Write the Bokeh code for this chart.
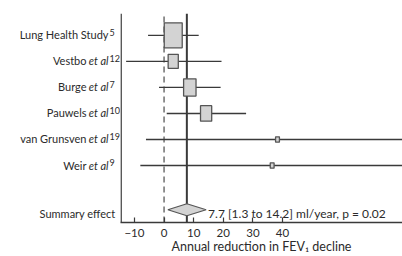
from bokeh.plotting import figure
from bokeh.layouts import row
from bokeh.models import Range1d, FixedTicker, ColumnDataSource, LabelSet, Label
from bokeh.core.properties import value
from bokeh.embed import file_html
from bokeh.resources import INLINE
import math

# ---- data ----
studies = ["Lung Health Study", "Vestbo", "Burge", "Pauwels", "van Grunsven", "Weir"]
et_al = [False, True, True, True, True, True]
refs = ["5", "12", "7", "10", "19", "9"]
effect = [3.1, 3.1, 8.7, 14.2, 38.3, 36.5]
ci_low = [-5.4, -12.8, -1.7, 0.9, -6.1, -8.0]
ci_high = [11.7, 19.4, 19.1, 27.7, 85.0, 82.0]
weight_pct = [44, 14, 21, 17, 2, 2]

summary_label = "Summary effect"
summary_est = 7.7
summary_low = 1.3
summary_high = 14.2
summary_p = "0.02"

x_ticks = [-10, 0, 10, 20, 30, 40]
x_label = "Annual reduction in FEV\u2081 decline"

# ---- style ----
FONT = "Lato"
TXT = "#2b2b2b"
LINE = "#3a3a3a"
H = 256
TOP = 13
BOT = 34
LEFT_W = 120
MAIN_W = 282

n = len(studies)
ys = [n - i for i in range(n)]          # rows 6..1
y_sum = 1 - 1.70
Y0, Y1 = -1.19, 6.84
X0, X1 = -14.5, 80.5
yr = Range1d(Y0, Y1)

# ---------- main panel ----------
p = figure(width=MAIN_W, height=H, output_backend="svg", toolbar_location=None,
           x_range=Range1d(X0 - 0.2, X1), y_range=yr)
p.min_border = 0
p.min_border_top = TOP
p.min_border_bottom = BOT
p.outline_line_color = None
p.xgrid.visible = False
p.ygrid.visible = False
p.yaxis.visible = False

xa = p.xaxis[0]
xa.ticker = FixedTicker(ticks=x_ticks)
xa.major_label_overrides = {t: (("\u2212" + str(-t)) if t < 0 else str(t)) for t in x_ticks}
xa.minor_tick_line_color = None
xa.major_tick_in = 5
xa.major_tick_out = 0
xa.major_tick_line_color = LINE
xa.major_tick_line_width = 1.2
xa.axis_line_color = LINE
xa.axis_line_width = 1.5
xa.major_label_text_font = FONT
xa.major_label_text_font_size = "11.5px"
xa.major_label_text_color = TXT
xa.major_label_standoff = 6
xa.axis_label = x_label
xa.axis_label_text_font = FONT
xa.axis_label_text_font_size = "12.5px"
xa.axis_label_text_font_style = "normal"
xa.axis_label_text_color = TXT
xa.axis_label_standoff = -1

# left axis line
p.segment(x0=[X0], y0=[Y0], x1=[X0], y1=[Y1], line_color=LINE, line_width=1.5)
# reference lines
p.segment(x0=[0], y0=[Y0], x1=[0], y1=[Y1], line_color=LINE, line_width=1.1, line_dash="6 4")
p.segment(x0=[summary_est], y0=[Y0], x1=[summary_est], y1=[Y1], line_color=LINE, line_width=2)

# CIs
p.segment(x0=ci_low, y0=ys, x1=ci_high, y1=ys, line_color=LINE, line_width=1.4)

# boxes sized by weight
bw = [2.71 * math.sqrt(w) for w in weight_pct]
bh = [3.77 * math.sqrt(w) for w in weight_pct]
p.rect(x=effect, y=ys, width=bw, height=bh, width_units="screen", height_units="screen",
       fill_color="#d3d3d3", line_color="#555555", line_width=1.3)

# summary diamond
dh = 0.23
p.patch(x=[summary_low, summary_est, summary_high, summary_est],
        y=[y_sum, y_sum + dh, y_sum, y_sum - dh],
        fill_color="#d3d3d3", line_color="#555555", line_width=1.2)

p.add_layout(Label(x=summary_high, y=y_sum, x_offset=2, y_offset=-4,
                   text=f"{summary_est} [{summary_low} to {summary_high}] ml/year, p = {summary_p}",
                   text_font=FONT, text_font_size="12px", text_color=TXT,
                   text_align="left", text_baseline="alphabetic"))

# ---------- label panel ----------
q = figure(width=LEFT_W, height=H, output_backend="svg", toolbar_location=None,
           x_range=Range1d(0, 1), y_range=yr)
q.min_border = 0
q.min_border_top = TOP
q.min_border_bottom = BOT
q.outline_line_color = None
q.grid.visible = False
q.axis.visible = False

ETAL_W = 22
name_src = ColumnDataSource(dict(x=[1] * n, y=ys, text=studies,
                                 xo=[-12 - (ETAL_W if e else 0) for e in et_al]))
q.add_layout(LabelSet(x="x", y="y", text="text", x_offset="xo", y_offset=-4, source=name_src,
                      text_font=value(FONT), text_font_size=value("11px"), text_color=TXT,
                      text_align="right", text_baseline="alphabetic"))
ey = [y for y, e in zip(ys, et_al) if e]
etal_src = ColumnDataSource(dict(x=[1] * len(ey), y=ey, text=["et al"] * len(ey)))
q.add_layout(LabelSet(x="x", y="y", text="text", x_offset=-12, y_offset=-4, source=etal_src,
                      text_font=value(FONT), text_font_size=value("11px"),
                      text_font_style="italic",
                      text_color=TXT, text_align="right", text_baseline="alphabetic"))
sup_src = ColumnDataSource(dict(x=[1] * n, y=ys, text=refs))
q.add_layout(LabelSet(x="x", y="y", text="text", x_offset=-11, y_offset=-0.5, source=sup_src,
                      text_font=value(FONT), text_font_size=value("9px"), text_color=TXT,
                      text_align="left", text_baseline="alphabetic"))
q.add_layout(Label(x=1, y=y_sum, x_offset=-5, y_offset=-4, text=summary_label,
                   text_font=FONT, text_font_size="11px", text_color=TXT,
                   text_align="right", text_baseline="alphabetic"))

layout = row(q, p)
layout.spacing = 0
open("out.html", "w").write(file_html(layout, INLINE))
